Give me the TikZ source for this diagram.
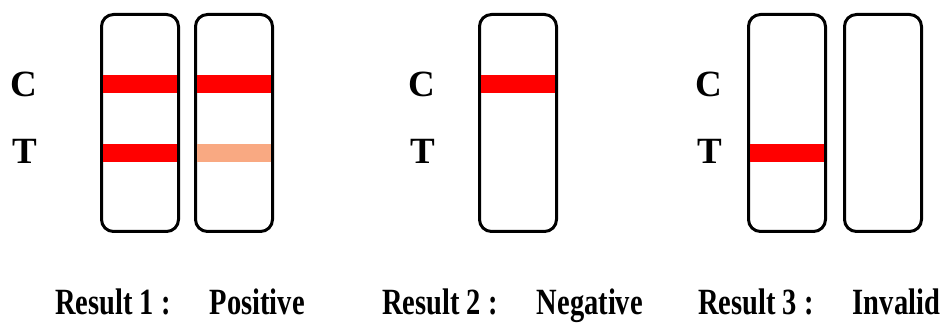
\documentclass[tikz,border=0pt]{standalone}
\usepackage{fontspec}
\setmainfont{Liberation Serif}
\newfontfamily\lblfont[FakeStretch=0.77]{Liberation Serif}
\newcommand\rcolon{\hspace{.2em}:\hspace{1.05em}}
\definecolor{bandred}{HTML}{FF0000}
\definecolor{bandpale}{HTML}{F9A982}

\begin{document}
\begin{tikzpicture}[x=1pt,y=-1pt,
  strip/.style={draw,line width=3pt,rounded corners=12pt,
    minimum width=77pt,minimum height=217pt,inner sep=0pt},
  band/.style={inner sep=0pt,minimum width=74pt,minimum height=18pt},
  letter/.style={anchor=base east,inner sep=0pt,
    font=\bfseries\fontsize{37}{37}\selectfont},
  result/.style={anchor=base west,inner sep=0pt,
    font=\lblfont\bfseries\fontsize{37}{40}\selectfont}]
  \useasboundingbox (0,0) rectangle (946,323);

  % result 1: positive
  \node[letter] (c1) at (37,97) {C};
  \node[letter] (t1) at (37,164) {T};
  \node[strip] (s1a) at (140,123) {};
  \node[strip] (s1b) at (234,123) {};
  \node[band,fill=bandred] (c1a) at (s1a |- 0,84) {};
  \node[band,fill=bandred] (t1a) at (s1a |- 0,153) {};
  \node[band,fill=bandred] (c1b) at (s1b |- 0,84) {};
  \node[band,fill=bandpale] (t1b) at (s1b |- 0,153) {};
  \node[result] (r1) at (55,315) {Result 1\rcolon Positive};

  % result 2: negative
  \node[letter] (c2) at (435,97) {C};
  \node[letter] (t2) at (435,164) {T};
  \node[strip] (s2) at (518,123) {};
  \node[band,fill=bandred] (c2a) at (s2 |- 0,84) {};
  \node[result] (r2) at (382,315) {Result 2\rcolon Negative};

  % result 3: invalid
  \node[letter] (c3) at (722,97) {C};
  \node[letter] (t3) at (722,164) {T};
  \node[strip] (s3a) at (787,123) {};
  \node[strip] (s3b) at (883,123) {};
  \node[band,fill=bandred] (t3a) at (s3a |- 0,153) {};
  \node[result] (r3) at (698,315) {Result 3\rcolon Invalid};
\end{tikzpicture}
\end{document}
